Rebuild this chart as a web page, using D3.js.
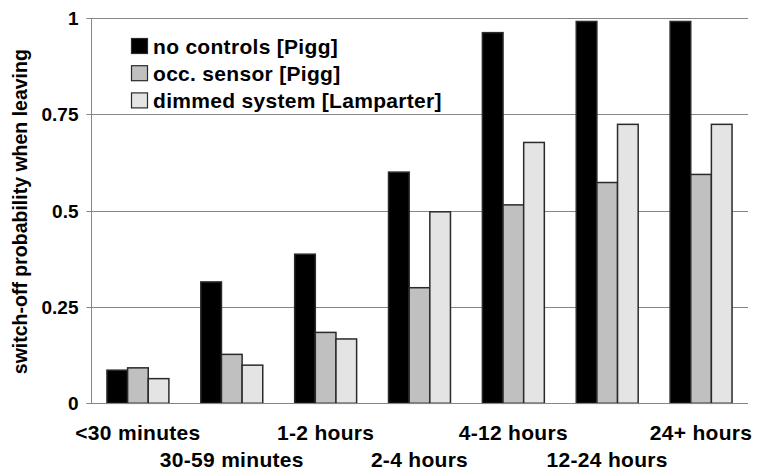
<!DOCTYPE html>
<html>
<head>
<meta charset="utf-8">
<script src="https://cdn.jsdelivr.net/npm/d3@7"></script>
<style>
  html, body { margin: 0; padding: 0; background: #fff; }
  svg { display: block; }
  text { font-family: "Liberation Sans", Arial, sans-serif; font-weight: bold; fill: #000; }
</style>
</head>
<body>
<svg id="chart" width="761" height="476"></svg>
<script>
const categories = ["<30 minutes", "30-59 minutes", "1-2 hours", "2-4 hours", "4-12 hours", "12-24 hours", "24+ hours"];
const seriesNames = ["no controls [Pigg]", "occ. sensor [Pigg]", "dimmed system [Lamparter]"];
const noControls = [0.086, 0.315, 0.387, 0.600, 0.962, 0.991, 0.991];
const occSensor  = [0.092, 0.127, 0.184, 0.300, 0.515, 0.573, 0.594];
const dimmed     = [0.064, 0.099, 0.167, 0.497, 0.677, 0.724, 0.724];
const yTicks = [0, 0.25, 0.5, 0.75, 1];
const yTickLabels = ["0", "0.25", "0.5", "0.75", "1"];
const seriesColors = ["#000000", "#c0c0c0", "#e4e4e4"];
const yTitle = "switch-off probability when leaving";

const series = [noControls, occSensor, dimmed];

const svg = d3.select("#chart");
const margin = { left: 91, right: 13, top: 18, bottom: 73 };
const W = 761, H = 476;
const x0 = margin.left, x1 = W - margin.right;
const yTop = margin.top, yBot = H - margin.bottom + 0.3;

const x = d3.scaleBand().domain(categories).range([x0, x1]).paddingInner(0.34).paddingOuter(0.17);
const xs = d3.scaleBand().domain(d3.range(series.length)).range([0, x.bandwidth()]);
const y = d3.scaleLinear().domain([0, 1]).range([yBot, yTop]);

// gridlines
svg.append("g").selectAll("line").data(yTicks.filter(d => d > 0)).join("line")
  .attr("x1", x0).attr("x2", x1)
  .attr("y1", d => Math.round(y(d)) + 0.5).attr("y2", d => Math.round(y(d)) + 0.5)
  .attr("stroke", "#868686").attr("stroke-width", 1);

// y axis
const yAxis = d3.axisLeft(y).tickValues(yTicks).tickSize(5).tickPadding(8)
  .tickFormat((d, i) => yTickLabels[i]);
const gy = svg.append("g").attr("transform", `translate(${x0 + 0.5},0)`).call(yAxis);
gy.select(".domain").attr("stroke", "#868686").attr("d", `M-5,${Math.round(y(1)) + 0.5}H0V${Math.round(y(0)) + 0.5}H-5`);
gy.selectAll(".tick line").attr("stroke", "#868686");
gy.selectAll(".tick").attr("transform", d => `translate(0,${Math.round(y(d)) + 0.5})`);
gy.selectAll(".tick text").style("font-size", "19px").style("font-family", "Liberation Sans, Arial, sans-serif")
  .style("font-weight", "bold").attr("fill", "#000").attr("dy", "0.36em");

// bars
const groups = svg.append("g").selectAll("g").data(categories).join("g")
  .attr("transform", d => `translate(${x(d)},0)`);
groups.selectAll("rect").data((d, i) => series.map((s, k) => ({ k, v: s[i] }))).join("rect")
  .attr("x", d => xs(d.k))
  .attr("width", xs.bandwidth())
  .attr("y", d => y(d.v))
  .attr("height", d => y(0) - y(d.v))
  .attr("fill", d => seriesColors[d.k])
  .attr("stroke", "#2a2a2a").attr("stroke-width", 1.5);

// x baseline
svg.append("line").attr("x1", x0).attr("x2", x1)
  .attr("y1", Math.round(y(0)) + 0.5).attr("y2", Math.round(y(0)) + 0.5)
  .attr("stroke", "#868686");

// x labels (staggered)
svg.append("g").selectAll("text").data(categories).join("text")
  .attr("x", d => x(d) + x.bandwidth() / 2)
  .attr("y", (d, i) => i % 2 === 0 ? 439.5 : 467)
  .attr("text-anchor", "middle")
  .style("font-size", "21px").style("letter-spacing", "0.3px")
  .text(d => d);

// y title
svg.append("text")
  .attr("transform", `translate(27,${(yTop + yBot) / 2 + 1}) rotate(-90)`)
  .attr("text-anchor", "middle")
  .style("font-size", "19.5px")
  .text(yTitle);

// legend
const legend = svg.append("g").attr("transform", "translate(131,38)");
const li = legend.selectAll("g").data(seriesNames).join("g")
  .attr("transform", (d, i) => `translate(0,${i * 27.2})`);
li.append("rect").attr("x", 0.5).attr("y", 0.5).attr("width", 16).attr("height", 15)
  .attr("fill", (d, i) => seriesColors[i]).attr("stroke", "#2a2a2a").attr("stroke-width", 1.2);
li.append("text").attr("x", 22).attr("y", 15.5)
  .style("font-size", "21px").style("letter-spacing", "0.3px")
  .text(d => d);
</script>
</body>
</html>
